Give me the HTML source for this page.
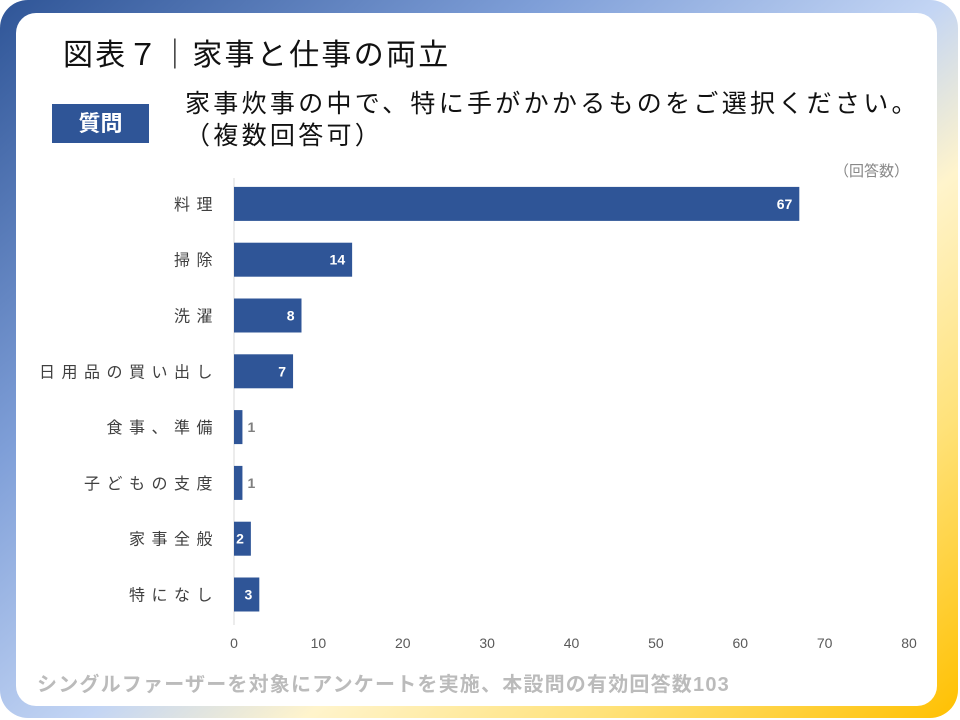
<!DOCTYPE html>
<html><head><meta charset="utf-8"><style>
html,body{margin:0;padding:0;background:#fff;}
body{width:960px;height:720px;position:relative;overflow:hidden;font-family:"Liberation Sans","Noto Sans CJK JP",sans-serif;}
#frame{position:absolute;left:0;top:0;width:958px;height:718px;border-radius:28px;background:linear-gradient(140deg,#2f5597 0%,#7f9fd8 30%,#c3d5f4 52%,#fff4cc 64%,#ffe27a 80%,#ffc000 100%);}
#panel{position:absolute;left:16px;top:13px;width:921px;height:693px;border-radius:20px;background:#fff;}
.t{position:absolute;white-space:nowrap;}
</style></head><body>
<div id="frame"></div>
<div id="panel"></div>
<div class="t" style="left:63px;top:30px;font-size:30px;letter-spacing:2.3px;color:#111;">図表７｜家事と仕事の両立</div>
<div class="t" style="left:52px;top:104px;width:97px;height:39px;background:#2f5597;color:#fff;font-size:22px;line-height:39px;text-align:center;font-weight:bold;">質問</div>
<div class="t" style="left:185px;top:88px;font-size:25px;letter-spacing:3.3px;line-height:32px;color:#111;">家事炊事の中で、特に手がかかるものをご選択ください。<br>（複数回答可）</div>
<div class="t" style="left:834px;top:160px;font-size:15px;color:#888;">（回答数）</div>
<div class="t" style="left:37px;top:668px;font-size:20px;letter-spacing:1.2px;color:#bbb;font-weight:bold;">シングルファーザーを対象にアンケートを実施、本設問の有効回答数103</div>
<svg id="chart" width="960" height="720" style="position:absolute;left:0;top:0;"></svg>
<script>
const categories=["料理","掃除","洗濯","日用品の買い出し","食事、準備","子どもの支度","家事全般","特になし"];
const values=[67,14,8,7,1,1,2,3];
const ticks=[0,10,20,30,40,50,60,70,80];
const NS="http://www.w3.org/2000/svg";
const svg=document.getElementById('chart');
const x0=234,x1=909,xmax=80;
const xs=v=>x0+(x1-x0)*v/xmax;
const rowTop=176,rowH=55.8,barH=34;
const ys=i=>rowTop+rowH*i+rowH/2;
function mk(t,a){const e=document.createElementNS(NS,t);for(const k in a)e.setAttribute(k,a[k]);svg.appendChild(e);return e;}
const ax=mk('line',{x1:x0,x2:x0,y1:178,y2:625,stroke:'#d9d9d9','stroke-width':1});


ticks.forEach(v=>{
 const t=mk('text',{x:xs(v),y:648,'text-anchor':'middle','font-size':14,fill:'#595959','font-family':'Liberation Sans, sans-serif'});
 t.textContent=v;
 
 
});
categories.forEach((c,i)=>{
 const y=ys(i);
 const l=mk('text',{x:219,y:y+6,'text-anchor':'end','font-size':16,fill:'#404040','letter-spacing':'6.5','font-family':'Liberation Sans, Noto Sans CJK JP, sans-serif'});
 l.textContent=c;
 
 
 const v=values[i];
 const r=mk('rect',{x:x0,y:y-barH/2,width:xs(v)-x0,height:barH,fill:'#2f5597'});
 
 
 const inside=v>=2;
 const tv=mk('text',{x:inside?xs(v)-7:xs(v)+5,y:y+5,'text-anchor':inside?'end':'start','font-size':14,'font-weight':'bold',fill:inside?'#fff':'#7f7f7f','font-family':'Liberation Sans, sans-serif'});
 tv.textContent=v;
 
 
});
</script>
</body></html>
